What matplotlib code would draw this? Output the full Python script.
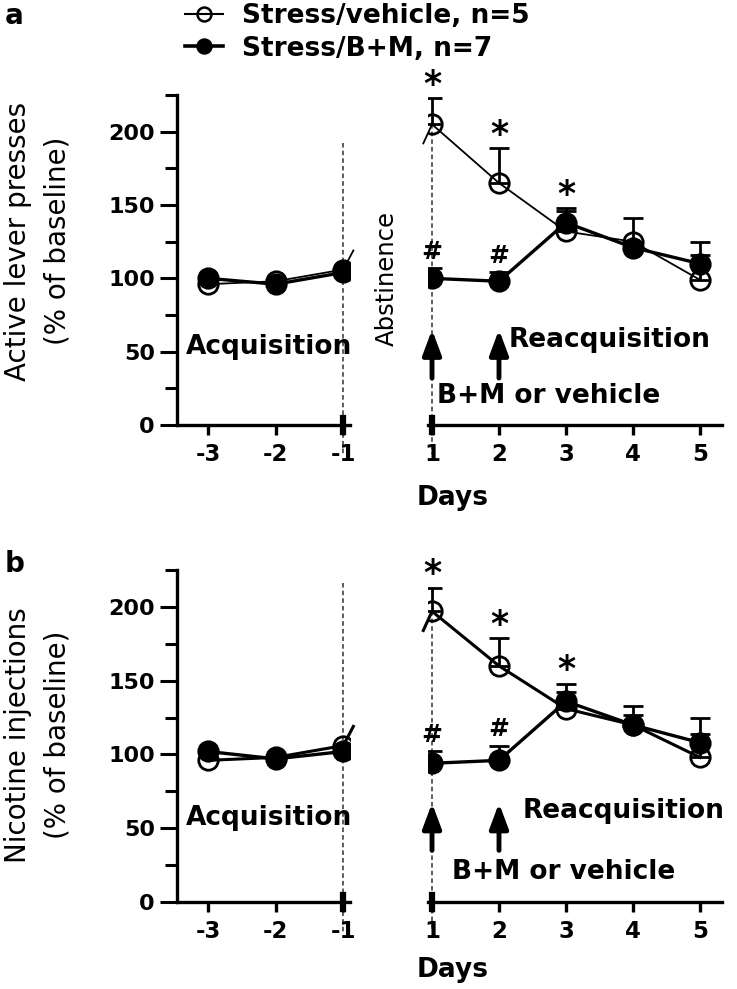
import numpy as np
from matplotlib import pyplot as plt
from matplotlib.ticker import MultipleLocator

# days
pre_days = [-3, -2, -1]
post_days = [1, 2, 3, 4, 5]

# panel a: active lever presses (% of baseline)
a_veh_pre = [96, 98, 106]
a_bm_pre = [100, 96, 104]
a_veh = [205, 165, 132, 125, 99]
a_veh_err = [18, 24, 16, 16, 26]
a_bm = [100, 98, 138, 121, 110]
a_bm_err = [7, 6, 8, 4, 6]

# panel b: nicotine injections (% of baseline)
b_veh_pre = [96, 98, 106]
b_bm_pre = [102, 97, 102]
b_veh = [197, 160, 131, 120, 98]
b_veh_err = [16, 19, 17, 13, 27]
b_bm = [94, 96, 136, 120, 108]
b_bm_err = [8, 10, 6, 7, 6]

star_days = [1, 2, 3]
hash_days = [1, 2]

plt.rcParams['font.family'] = 'DejaVu Sans'
plt.rcParams['axes.unicode_minus'] = False

W, H = 737, 989
fig = plt.figure(figsize=(W / 100, H / 100), dpi=100)


def px_rect(x0, x1, y_top, y_bot):
    return [x0 / W, 1 - y_bot / H, (x1 - x0) / W, (y_bot - y_top) / H]


def style_axis(ax, left_spine):
    ax.set_ylim(0, 225)
    for s in ['top', 'right']:
        ax.spines[s].set_visible(False)
    ax.spines['bottom'].set_linewidth(2.4)
    ax.spines['left'].set_linewidth(2.4)
    ax.tick_params(axis='x', direction='out', length=7, width=2.4,
                   labelsize=16.5, pad=6)
    for lab in ax.get_xticklabels():
        lab.set_fontweight('bold')
    if left_spine:
        ax.yaxis.set_major_locator(MultipleLocator(50))
        ax.yaxis.set_minor_locator(MultipleLocator(25))
        ax.tick_params(axis='y', which='major', direction='out', length=12,
                       width=2.2, labelsize=16, pad=4)
        ax.tick_params(axis='y', which='minor', direction='out', length=9,
                       width=2.2)
        for lab in ax.get_yticklabels():
            lab.set_fontweight('bold')
    else:
        ax.spines['left'].set_visible(False)
        ax.set_yticks([])


def panel(y_top, y_bot, veh_pre, bm_pre, veh, veh_err, bm, bm_err,
          veh_lw, acq_y, reacq_x, reacq_y, bm_txt_x, arr_tip, arr_bot,
          dash_top, days_y, abstinence):
    axl = fig.add_axes(px_rect(177, 350, y_top, y_bot))
    axr = fig.add_axes(px_rect(428, 722, y_top, y_bot))
    axl.set_xlim(-3.46, -0.9)
    axr.set_xlim(0.94, 5.33)
    axl.set_xticks(pre_days)
    axr.set_xticks(post_days)
    style_axis(axl, True)
    style_axis(axr, False)

    mk = dict(marker='o', markersize=14, markeredgewidth=2, color='black')
    # baseline days
    axl.plot(pre_days, bm_pre, lw=2.4, markerfacecolor='black', zorder=3, **mk)
    axl.plot(pre_days, veh_pre, lw=veh_lw, markerfacecolor='none', zorder=4, **mk)
    # stubs across the axis break
    axl.plot([pre_days[-1], pre_days[-1] + 0.15], [veh_pre[-1], veh_pre[-1] + 13],
             color='black', lw=veh_lw, clip_on=False)
    axr.plot([post_days[0], post_days[0] - 0.13], [veh[0], veh[0] - 13],
             color='black', lw=veh_lw, clip_on=False)

    # dashed lines marking the break
    axl.plot([pre_days[-1]] * 2, [dash_top, -20], ls=(0, (3, 2)), lw=1.1,
             color='#333333', clip_on=False, zorder=1)
    axr.plot([post_days[0]] * 2, [veh[0], -20], ls=(0, (3, 2)), lw=1.1,
             color='#333333', clip_on=False, zorder=1)
    # thick break marks on x axes
    axl.plot([pre_days[-1]] * 2, [-5, 5], lw=4.5, color='black', clip_on=False)
    axr.plot([post_days[0]] * 2, [-5, 5], lw=4.5, color='black', clip_on=False)

    # reacquisition days
    axr.errorbar(post_days, bm, yerr=[np.zeros(5), bm_err], lw=2.4,
                 markerfacecolor='black', capsize=7, capthick=2,
                 elinewidth=2, zorder=3, **mk)
    axr.errorbar(post_days, veh, yerr=[np.zeros(5), veh_err], lw=veh_lw,
                 markerfacecolor='none', capsize=7, capthick=2,
                 elinewidth=2, zorder=4, **mk)

    for d in star_days:
        i = post_days.index(d)
        axr.text(d, veh[i] + veh_err[i] + 9, '*', ha='center', va='center',
                 fontsize=25, fontweight='bold')
    for d in hash_days:
        i = post_days.index(d)
        axr.text(d, bm[i] + bm_err[i] + 11, '#', ha='center', va='center',
                 fontsize=18, fontweight='bold')

    # arrows for B+M or vehicle injections
    for d in hash_days:
        axr.annotate('', xy=(d, arr_tip), xytext=(d, arr_bot),
                     arrowprops=dict(arrowstyle='-|>,head_width=0.28,head_length=0.75',
                                     lw=3.5, color='black', mutation_scale=20,
                                     shrinkA=0, shrinkB=0))

    axl.text(-2.1, acq_y, 'Acquisition', ha='center', va='center',
             fontsize=19, fontweight='bold')
    axr.text(reacq_x, reacq_y, 'Reacquisition', ha='left', va='center',
             fontsize=19, fontweight='bold')
    axr.text(bm_txt_x, 20, 'B+M or vehicle', ha='left', va='center',
             fontsize=19, fontweight='bold')
    if abstinence:
        axr.text(0.32, 100, 'Abstinence', rotation=90, ha='center',
                 va='center', fontsize=17.5, clip_on=False)
    axr.text(1.31, days_y, 'Days', ha='center', va='center', fontsize=19,
             fontweight='bold', clip_on=False)
    return axl, axr


axl_a, axr_a = panel(95, 425, a_veh_pre, a_bm_pre, a_veh, a_veh_err, a_bm, a_bm_err,
                     1.3, 53, 2.15, 58, 1.08, 65, 32, 192, -50, True)
axl_b, axr_b = panel(570, 902, b_veh_pre, b_bm_pre, b_veh, b_veh_err, b_bm, b_bm_err,
                     2.2, 57, 2.35, 62, 1.3, 67, 35, 216, -46, False)

fig.text(38 / W, 1 - 241 / H, 'Active lever presses\n(% of baseline)',
         rotation=90, ha='center', va='center', fontsize=20, linespacing=1.5)
fig.text(38 / W, 1 - 735 / H, 'Nicotine injections\n(% of baseline)',
         rotation=90, ha='center', va='center', fontsize=20, linespacing=1.5)

fig.text(5 / W, 1 - 2 / H, 'a', ha='left', va='top', fontsize=20, fontweight='bold')
fig.text(5 / W, 1 - 550 / H, 'b', ha='left', va='top', fontsize=20, fontweight='bold')

leg_veh = plt.Line2D([], [], color='black', lw=1.5, marker='o', markersize=10,
                     markeredgewidth=1.8, markerfacecolor='none')
leg_bm = plt.Line2D([], [], color='black', lw=2.6, marker='o', markersize=10,
                    markeredgewidth=1.8, markerfacecolor='black')
fig.legend([leg_veh, leg_bm], ['Stress/vehicle, n=5', 'Stress/B+M, n=7'],
           loc='upper left', bbox_to_anchor=(185 / W, 1 - 3 / H), frameon=False,
           borderpad=0, borderaxespad=0, handlelength=1.45, handletextpad=0.7,
           labelspacing=0.25, prop=dict(size=19, weight='bold'))

fig.savefig('out.png', dpi=100)
